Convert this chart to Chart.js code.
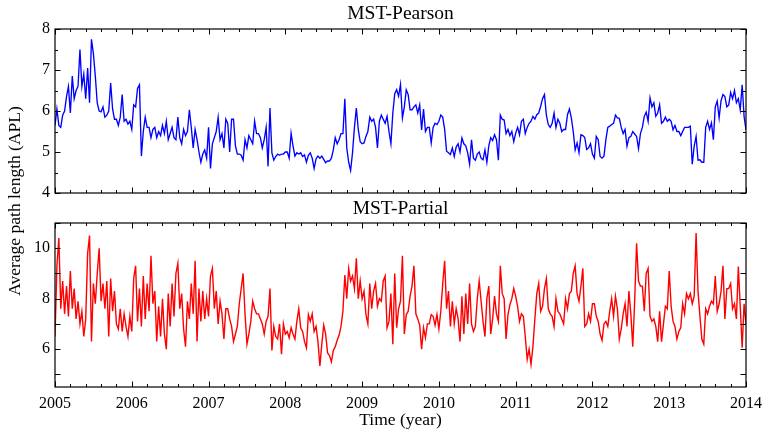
<!DOCTYPE html>
<html>
<head>
<meta charset="utf-8">
<title>Average path length</title>
<script src="https://cdn.jsdelivr.net/npm/chart.js@4.4.0/dist/chart.umd.min.js"></script>
<style>
  body { margin: 0; background: #fff; }
  #wrap { position: relative; width: 763px; height: 431px; background: #fff; overflow: hidden; }
  canvas { position: absolute; left: 0; }
  #topChart { top: 0; }
  #bottomChart { top: 198px; }
  #yTitle {
    position: absolute; left: -136px; top: 191px; width: 300px; height: 20px;
    line-height: 20px; text-align: center; color: #000;
    font: 17.5px "Liberation Serif", "Times New Roman", serif;
    transform: rotate(-90deg);
  }
</style>
</head>
<body>
<div id="wrap">
  <canvas id="topChart" width="763" height="198"></canvas>
  <canvas id="bottomChart" width="763" height="233"></canvas>
  <div id="yTitle">Average path length (APL)</div>
</div>
<script>
// sampling of both series: 40 samples per year starting at 2005.0
const sampleStart = 2005;
const samplesPerYear = 40;

const yearTicks = [2005, 2006, 2007, 2008, 2009, 2010, 2011, 2012, 2013, 2014];
const pearsonTicks = [4, 5, 6, 7, 8];
const partialTicks = [6, 8, 10];

const pearsonAPL = [
  5.65, 6.05, 5.65, 5.6, 5.9, 6.0, 6.35, 6.6, 5.95, 6.85,
  6.3, 6.5, 6.6, 7.5, 6.6, 6.9, 6.3, 7.05, 6.2, 7.75,
  7.4, 6.85, 6.2, 6.0, 5.98, 6.1, 5.85, 5.9, 6.0, 6.68,
  6.05, 5.8, 5.8, 5.65, 5.85, 6.4, 5.75, 5.8, 5.68, 5.75,
  5.55, 6.15, 6.1, 6.55, 6.64, 4.9, 5.5, 5.85, 5.6, 5.6,
  5.35, 5.55, 5.6, 5.35, 5.5, 5.4, 5.65, 5.45, 5.75, 5.3,
  5.45, 5.6, 5.35, 5.3, 5.85, 5.35, 5.2, 5.55, 5.4, 5.5,
  6.03, 5.6, 5.1, 5.55, 5.3, 5.0, 4.75, 4.95, 5.05, 4.85,
  5.6, 4.6, 5.2, 5.35, 5.5, 5.85, 5.3, 5.45, 5.1, 5.8,
  5.7, 5.0, 5.8, 5.8, 5.15, 4.95, 4.95, 4.92, 4.8, 5.3,
  5.1, 5.4, 5.3, 5.2, 5.75, 5.45, 5.45, 5.35, 5.1, 5.3,
  5.6, 4.65, 6.07, 4.98, 4.8, 4.89, 4.95, 4.92, 4.95, 4.95,
  5.0, 5.0, 4.85, 5.46, 5.15, 4.9, 4.98, 4.95, 4.98, 4.89,
  4.93, 4.75, 4.92, 4.98, 4.85, 4.6, 4.83, 4.9, 4.85, 4.9,
  4.82, 4.74, 4.78, 4.78, 4.85, 5.05, 5.35, 5.2, 5.3, 5.45,
  5.45, 6.3, 5.1, 4.75, 4.55, 4.98, 5.6, 6.07, 5.55, 5.25,
  5.2, 5.22, 5.38, 5.5, 5.85, 5.75, 5.8, 5.6, 5.1, 5.75,
  5.9, 5.8, 5.7, 5.87, 5.5, 5.2, 5.95, 6.42, 6.52, 6.36,
  6.65, 5.83, 6.1, 6.52, 6.4, 6.03, 6.03, 6.1, 6.15, 5.95,
  6.15, 5.54, 6.05, 5.5, 5.6, 5.6, 5.22, 5.6, 5.7, 5.67,
  5.75, 5.9, 5.85, 5.55, 5.02, 4.98, 4.94, 5.1, 4.89, 5.12,
  5.2, 5.0, 5.34, 5.2, 5.15, 4.98, 4.7, 5.3, 4.85, 4.8,
  4.95, 5.0, 4.85, 4.81, 5.05, 4.75, 5.15, 5.35, 5.28, 5.42,
  5.3, 4.8, 5.9, 5.8, 5.78, 5.45, 5.55, 5.4, 5.5, 5.25,
  5.46, 5.6, 5.42, 5.75, 5.8, 5.45, 5.6, 5.7, 5.75, 5.87,
  5.8, 5.91, 5.95, 6.11, 6.3, 6.4, 5.9, 5.67, 5.6, 5.7,
  5.95, 5.6, 5.8, 5.7, 5.5, 5.55, 5.55, 5.91, 6.05, 5.83,
  5.5, 5.05, 5.22, 4.98, 5.42, 5.4, 5.35, 5.06, 5.1, 5.2,
  4.95, 4.85, 5.38, 5.3, 4.89, 4.85, 4.9, 5.3, 5.6, 5.63,
  5.67, 5.7, 5.9, 5.83, 5.82, 5.6, 5.45, 5.55, 5.14, 5.35,
  5.38, 5.5, 5.44, 5.38, 5.08, 5.45, 5.6, 5.87, 5.97, 5.75,
  6.32, 6.1, 6.2, 5.87, 5.95, 6.15, 5.7, 5.75, 5.85, 5.75,
  5.8, 5.75, 5.54, 5.65, 5.5, 5.5, 5.4, 5.5, 5.6, 5.6,
  5.6, 5.63, 4.7, 5.14, 5.38, 4.8, 4.81, 4.75, 4.75, 5.6,
  5.75, 5.55, 5.71, 5.3, 6.1, 6.24, 5.83, 6.25, 6.4, 6.35,
  6.1, 6.15, 6.45, 6.3, 6.5, 6.2, 6.3, 6.03, 6.64, 5.87, 5.54
];

const partialAPL = [
  6.5, 9.3, 10.4, 7.6, 8.7, 7.4, 8.5, 7.3, 9.1, 7.6,
  8.4, 7.2, 7.9, 7.0, 7.5, 6.5, 7.2, 9.8, 10.5, 6.3,
  8.6, 7.8, 9.0, 10.0, 7.9, 8.6, 7.6, 8.7, 6.5, 8.8,
  7.5, 8.3, 7.0, 6.8, 7.6, 6.7, 7.4, 6.9, 6.5, 7.3,
  6.7, 8.8, 9.3, 7.1, 8.4, 6.9, 8.9, 7.2, 8.6, 7.5,
  9.7, 7.8, 8.3, 6.3, 7.7, 6.5, 8.0, 6.6, 6.0, 8.2,
  6.9, 8.6, 7.3, 9.0, 9.4, 7.6, 8.2, 6.8, 6.1, 7.9,
  7.2, 8.6, 7.4, 9.5, 6.3, 8.4, 7.1, 8.3, 7.2, 8.0,
  7.3, 8.9, 9.2, 7.6, 8.3, 7.0, 7.9, 7.4, 6.4, 7.6,
  7.6, 7.2, 6.9, 6.3, 6.6, 6.9, 7.8, 8.4, 9.0, 7.4,
  6.2, 6.6, 7.1, 7.9, 7.6, 7.4, 7.4, 7.2, 7.0, 6.6,
  7.1, 7.3, 8.4, 5.95, 6.9, 6.5, 6.4, 7.0, 5.8, 7.0,
  6.6, 6.7, 6.45, 6.85, 6.6, 6.4, 7.1, 7.6, 6.85, 6.7,
  6.3, 6.05, 7.37, 7.1, 7.4, 6.7, 6.9, 6.3, 5.33, 6.2,
  6.95, 6.6, 5.85, 5.75, 5.5, 5.95, 6.1, 6.35, 6.55, 6.9,
  7.5, 8.94, 8.0, 9.2, 8.7, 8.9, 8.4, 9.6, 8.0, 8.7,
  8.0, 8.3, 7.37, 7.0, 8.6, 7.6, 8.3, 8.6, 7.7, 8.0,
  7.9, 8.7, 8.9, 6.85, 7.1, 8.2, 6.2, 9.0, 6.85, 7.6,
  7.9, 9.7, 6.6, 7.37, 7.5, 8.1, 8.5, 9.3, 7.4, 7.2,
  6.95, 6.0, 6.85, 6.45, 7.0, 7.0, 7.37, 7.3, 6.95, 7.37,
  6.8, 7.5, 8.6, 9.5, 7.6, 8.3, 6.9, 7.9, 7.0, 7.6,
  7.2, 6.3, 8.1, 6.6, 8.2, 7.0, 8.6, 7.0, 6.7, 6.9,
  8.0, 8.7, 7.9, 7.1, 6.5, 8.0, 8.5, 6.6, 7.2, 8.1,
  7.4, 7.1, 9.3, 8.2, 8.0, 6.4, 7.37, 7.76, 8.0, 8.4,
  8.1, 7.7, 7.1, 7.4, 7.3, 6.5, 5.6, 6.0, 5.4, 6.1,
  7.2, 8.2, 8.6, 7.5, 7.7, 8.4, 8.8, 7.6, 7.4, 7.3,
  6.9, 8.0, 7.5, 7.4, 7.2, 7.0, 8.0, 7.6, 8.2, 8.3,
  9.0, 9.3, 8.2, 7.9, 8.5, 9.2, 6.9, 7.0, 7.4, 7.1,
  7.8, 7.8, 7.3, 7.1, 6.6, 6.35, 7.0, 7.1, 6.9, 7.5,
  8.0, 7.3, 8.1, 7.6, 6.4, 6.8, 7.4, 7.8, 6.9, 8.3,
  7.4, 6.1, 7.9, 10.2, 8.7, 8.5, 8.5, 7.5, 9.0, 9.2,
  7.3, 7.1, 7.2, 6.9, 6.3, 7.5, 6.3, 7.0, 7.7, 7.6,
  9.1, 7.7, 7.1, 6.9, 6.4, 6.7, 6.85, 7.8, 7.4, 8.2,
  8.0, 8.2, 7.8, 8.1, 10.6, 8.3, 7.3, 6.4, 6.2, 7.6,
  7.4, 7.7, 7.9, 7.8, 8.9, 7.5, 7.8, 8.3, 9.3, 7.2,
  8.4, 8.4, 8.6, 7.6, 7.8, 7.2, 9.27, 7.7, 6.06, 7.8, 7.0
];

function toPoints(values) {
  return values.map((v, i) => ({ x: sampleStart + i / samplesPerYear, y: v }));
}

const serif = '"Liberation Serif", "Times New Roman", serif';

// box around the plot area with inward tick marks on all four sides
const framePlugin = {
  id: 'frame',
  afterDraw(chart, args, opts) {
    const { ctx, chartArea: a } = chart;
    const xs = chart.scales.x;
    const ys = chart.scales.y;
    ctx.save();
    ctx.strokeStyle = '#000';
    ctx.lineWidth = 1;
    ctx.beginPath();
    // years: long tick every year, short tick every 0.2 year
    for (let k = 0; k <= 45; k++) {
      const px = Math.round(xs.getPixelForValue(2005 + k * 0.2)) + 0.5;
      const len = k % 5 === 0 ? 5.5 : 3;
      ctx.moveTo(px, a.bottom);
      ctx.lineTo(px, a.bottom - len);
      ctx.moveTo(px, a.top);
      ctx.lineTo(px, a.top + len);
    }
    const first = Math.ceil(ys.min / opts.yStep) * opts.yStep;
    for (let v = first; v <= ys.max + 1e-9; v += opts.yStep) {
      const py = Math.round(ys.getPixelForValue(v)) + 0.5;
      const major = Math.abs(v / opts.yMajorEvery - Math.round(v / opts.yMajorEvery)) < 1e-6;
      const len = major ? 5.5 : 3;
      ctx.moveTo(a.left, py);
      ctx.lineTo(a.left + len, py);
      ctx.moveTo(a.right, py);
      ctx.lineTo(a.right - len, py);
    }
    ctx.stroke();
    ctx.lineWidth = 1.2;
    ctx.strokeRect(a.left, a.top, a.right - a.left, a.bottom - a.top);
    ctx.restore();
  }
};

function yScale(min, max, labels) {
  return {
    min: min,
    max: max,
    afterBuildTicks: s => { s.ticks = labels.map(v => ({ value: v })); },
    // fixed axis width; labels may overhang the plot box without moving it
    afterFit: s => { s.width = 55; s.paddingTop = 0; s.paddingBottom = 0; },
    grid: { display: false, drawTicks: false },
    border: { display: false },
    ticks: { color: '#000', padding: 5, font: { family: serif, size: 16 } }
  };
}

function panelTitle(text, padding) {
  return {
    display: true,
    text: text,
    fullSize: false,
    color: '#000',
    font: { family: serif, size: 19.5, weight: 'normal', lineHeight: 1.1 },
    padding: padding
  };
}

// MST-Pearson panel
new Chart(document.getElementById('topChart'), {
  type: 'line',
  data: {
    datasets: [{
      data: toPoints(pearsonAPL),
      borderColor: '#0000ff',
      borderWidth: 1.35,
      pointRadius: 0,
      tension: 0
    }]
  },
  options: {
    responsive: false,
    animation: false,
    layout: { padding: { left: 0, right: 17, top: 0, bottom: 5 } },
    plugins: {
      legend: { display: false },
      tooltip: { enabled: false },
      title: panelTitle('MST-Pearson', { top: 3.3, bottom: 4.25 }),
      frame: { yStep: 0.5, yMajorEvery: 1 }
    },
    scales: {
      x: { type: 'linear', min: 2005, max: 2014, display: false },
      y: yScale(4, 8, pearsonTicks)
    }
  },
  plugins: [framePlugin]
});

// MST-Partial panel
new Chart(document.getElementById('bottomChart'), {
  type: 'line',
  data: {
    datasets: [{
      data: toPoints(partialAPL),
      borderColor: '#ff0000',
      borderWidth: 1.4,
      pointRadius: 0,
      tension: 0
    }]
  },
  options: {
    responsive: false,
    animation: false,
    layout: { padding: { left: 0, right: 17, top: 0, bottom: 0 } },
    plugins: {
      legend: { display: false },
      tooltip: { enabled: false },
      title: panelTitle('MST-Partial', { top: 0.3, bottom: 3.25 }),
      frame: { yStep: 1, yMajorEvery: 1 }
    },
    scales: {
      x: {
        type: 'linear',
        min: 2005,
        max: 2014,
        afterBuildTicks: s => { s.ticks = yearTicks.map(v => ({ value: v })); },
        afterFit: s => { s.height = 44; s.paddingLeft = 0; s.paddingRight = 0; },
        grid: { display: false, drawTicks: false },
        border: { display: false },
        ticks: {
          color: '#000',
          padding: 7,
          maxRotation: 0,
          autoSkip: false,
          font: { family: serif, size: 16 },
          callback: v => String(v)
        },
        title: {
          display: true,
          text: 'Time (year)',
          color: '#000',
          font: { family: serif, size: 17.5 },
          padding: { top: 0, bottom: 0 }
        }
      },
      y: yScale(4.5, 11, partialTicks)
    }
  },
  plugins: [framePlugin]
});
</script>
</body>
</html>
